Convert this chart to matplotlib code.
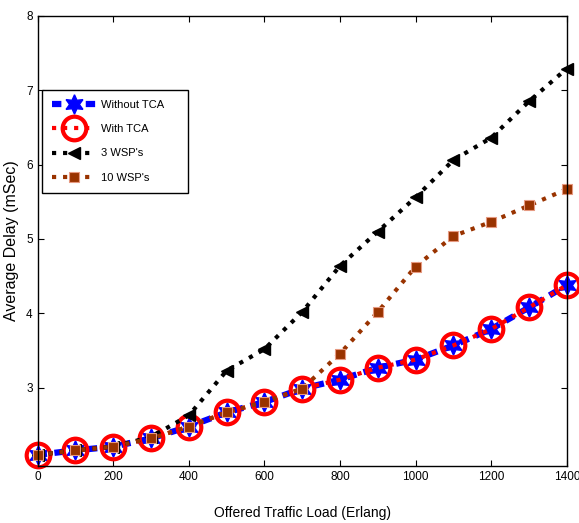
import matplotlib
matplotlib.use("Agg")
import matplotlib.pyplot as plt

plt.rcParams['font.family'] = ['Liberation Sans', 'DejaVu Sans']

load = [0, 100, 200, 300, 400, 500, 600, 700, 800, 900, 1000, 1100, 1200, 1300, 1400]
without_tca = [2.10, 2.16, 2.21, 2.32, 2.48, 2.67, 2.81, 2.99, 3.11, 3.27, 3.38, 3.57, 3.79, 4.08, 4.38]
with_tca = [2.10, 2.16, 2.21, 2.32, 2.48, 2.67, 2.81, 2.99, 3.11, 3.27, 3.38, 3.57, 3.79, 4.08, 4.38]
wsp3 = [2.10, 2.16, 2.21, 2.34, 2.63, 3.23, 3.52, 4.02, 4.64, 5.10, 5.56, 6.06, 6.36, 6.85, 7.29]
wsp10 = [2.10, 2.16, 2.21, 2.32, 2.48, 2.67, 2.81, 2.99, 3.46, 4.02, 4.63, 5.04, 5.23, 5.45, 5.67]
labels = ["Without TCA", "With TCA", "3 WSP's", "10 WSP's"]

fig = plt.figure(figsize=(5.79, 5.23), dpi=100)
ax = fig.add_axes([0.065, 0.109, 0.914, 0.861])

brown = (0.6, 0.2, 0.0)
ax.plot(load, without_tca, linestyle=(0, (1.5, 1.2)), color='blue', linewidth=4.5,
        marker=(6, 1, 0), markersize=14, markerfacecolor='blue', markeredgecolor='blue',
        label=labels[0], clip_on=False)
ax.plot(load, with_tca, linestyle=':', color='red', linewidth=3,
        marker='o', markersize=17, markerfacecolor='none', markeredgecolor='red',
        markeredgewidth=3, label=labels[1], clip_on=False)
ax.plot(load, wsp3, linestyle=':', color='black', linewidth=3,
        marker='<', markersize=9, markerfacecolor='black', markeredgecolor='black',
        label=labels[2], clip_on=False)
ax.plot(load, wsp10, linestyle=':', color=brown, linewidth=3,
        marker='s', markersize=6.5, markerfacecolor=brown, markeredgecolor=(0.9, 0.6, 0.5),
        markeredgewidth=0.8, label=labels[3], clip_on=False)

ax.set_xlim(0, 1400)
ax.set_ylim(1.95, 8)
ax.set_xticks(range(0, 1401, 200))
ax.set_yticks([3, 4, 5, 6, 7, 8])
ax.tick_params(direction='in', top=True, right=True, labelsize=8.5, length=4, width=0.8)
for s in ax.spines.values():
    s.set_linewidth(1.0)

ax.set_xlabel('Offered Traffic Load (Erlang)', fontsize=10, labelpad=17)
ax.set_ylabel('Average Delay (mSec)', fontsize=11.5, labelpad=5)

leg = ax.legend(loc='upper left', bbox_to_anchor=(0.0076, 0.836, 0.276, 0.0), mode='expand',
                fontsize=8, handlelength=4, fancybox=False, framealpha=1, edgecolor='black',
                borderpad=0.9, labelspacing=1.3, handletextpad=0.4, borderaxespad=0)
leg.get_frame().set_linewidth(1.0)

fig.savefig('out.png', dpi=100)
